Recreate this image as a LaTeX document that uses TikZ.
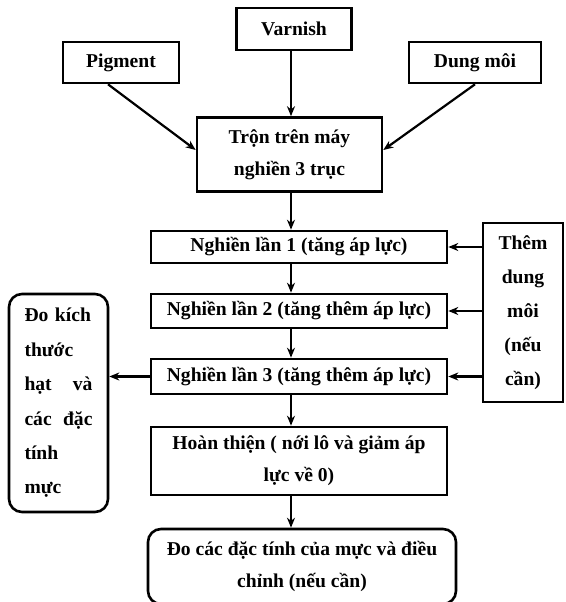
\documentclass[tikz,border=0pt]{standalone}
\usepackage{fontspec}
\setmainfont{Liberation Serif}
\usetikzlibrary{arrows.meta,positioning}

\begin{document}
\begin{tikzpicture}[x=1pt,y=-1pt,
        box/.style={draw, line width=2.6pt, align=center, inner sep=0pt,
            font=\fontsize{19.6}{32}\selectfont\bfseries},
        roundbox/.style={box, rounded corners=13pt},
        link/.style={line width=2.2pt, -{Stealth[length=10pt,width=8pt]}}]
    \useasboundingbox (0,0) rectangle (565,602);

    % inputs
    \node[box, minimum width=115, minimum height=42] (varnish) at (294,29) {Varnish};
    \node[box, minimum width=116, minimum height=41] (pigment) at (121,62.5) {Pigment};
    \node[box, minimum width=132, minimum height=41] (dungmoi) at (475,62.5) {Dung môi};
    \node[box, minimum width=185, minimum height=74] (tron) at (289.5,154.5) {Trộn trên máy\\nghiền 3 trục};

    % grinding steps
    \node[box, minimum width=296, minimum height=32] (nghien1) at (299,247) {Nghiền lần 1 (tăng áp lực)};
    \node[box, minimum width=296, minimum height=34] (nghien2) at (299,311) {Nghiền lần 2 (tăng thêm áp lực)};
    \node[box, minimum width=296, minimum height=35] (nghien3) at (299,376.5) {Nghiền lần 3 (tăng thêm áp lực)};
    \node[box, minimum width=296, minimum height=68] (hoanthien) at (299,461) {Hoàn thiện ( nới lô và giảm áp\\lực về 0)};
    \node[roundbox, minimum width=308, minimum height=75] (docac) at (302,566.5) {Đo các đặc tính của mực và điều\\chỉnh (nếu cần)};

    % side boxes
    \node[box, minimum width=80, minimum height=179, font=\fontsize{19.6}{34}\selectfont\bfseries] (them) at (523,312.5) {Thêm\\dung\\môi\\(nếu\\cần)};
    \node[roundbox, minimum width=99, minimum height=218, text width=68, align=left,
        font=\fontsize{19.6}{34.4}\selectfont\bfseries] (dokich) at (58.5,403)
        {\mbox{Đo kích}\\thước\\hạt\hfill và\\các\hfill đặc\\tính\\mực};

    \coordinate (colx) at (291,0);

    \draw[link] ([xshift=-13pt]pigment.south) -- ([yshift=4.5pt]tron.west);
    \draw[link] (dungmoi.south) -- ([yshift=4.5pt]tron.east);
    \draw[link] (varnish.south -| colx) -- (tron.north -| colx);
    \draw[link] (tron.south -| colx) -- (nghien1.north -| colx);
    \draw[link] (nghien1.south -| colx) -- (nghien2.north -| colx);
    \draw[link] (nghien2.south -| colx) -- (nghien3.north -| colx);
    \draw[link] (nghien3.south -| colx) -- (hoanthien.north -| colx);
    \draw[link] (hoanthien.south -| colx) -- (docac.north -| colx);

    \draw[link] (them.west |- nghien1) -- (nghien1.east);
    \draw[link] (them.west |- nghien2) -- (nghien2.east);
    \draw[link] (them.west |- nghien3) -- (nghien3.east);
    \draw[link] (nghien3.west) -- (nghien3.west -| dokich.east);
\end{tikzpicture}
\end{document}
